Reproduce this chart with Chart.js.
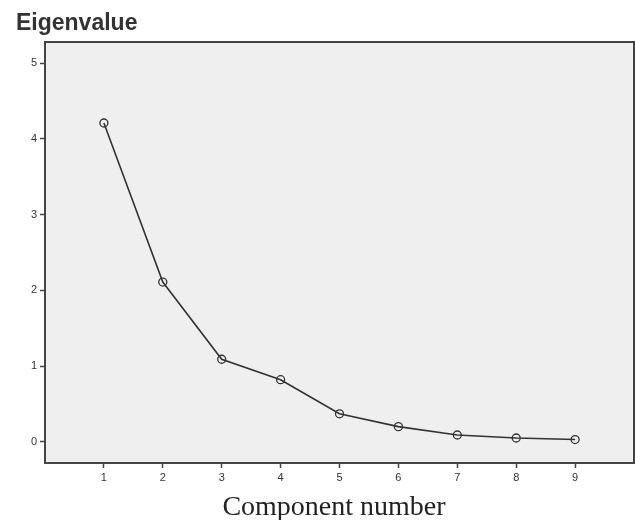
<!DOCTYPE html>
<html>
<head>
<meta charset="utf-8">
<script src="https://cdn.jsdelivr.net/npm/chart.js@4/dist/chart.umd.min.js"></script>
<style>
  html, body { margin: 0; padding: 0; background: #fff; }
  #wrap { width: 635px; height: 520px; }
</style>
</head>
<body>
<div id="wrap"><canvas id="myChart" width="635" height="520"></canvas></div>
<script>
// data
const components = [1, 2, 3, 4, 5, 6, 7, 8, 9];
const eigenvalues = [4.21, 2.11, 1.09, 0.82, 0.37, 0.20, 0.09, 0.05, 0.03];
const xTicks = [1, 2, 3, 4, 5, 6, 7, 8, 9];
const yTicks = [0, 1, 2, 3, 4, 5];

const points = components.map((c, i) => ({ x: c, y: eigenvalues[i] }));

// background, frame and titles
const framePlugin = {
  id: 'frame',
  beforeDraw(chart) {
    const { ctx, chartArea: { left, top, right, bottom } } = chart;
    ctx.save();
    ctx.fillStyle = '#efefef';
    ctx.fillRect(left, top, right - left, bottom - top);
    ctx.restore();
  },
  afterDraw(chart) {
    const { ctx, chartArea: { left, top, right, bottom } } = chart;
    ctx.save();
    ctx.strokeStyle = '#444';
    ctx.lineWidth = 2;
    ctx.beginPath();
    ctx.moveTo(left, top);
    ctx.lineTo(right, top);
    ctx.lineTo(right, bottom);
    ctx.stroke();

    ctx.fillStyle = '#333';
    ctx.font = 'bold 23px "Liberation Sans", Arial, sans-serif';
    ctx.textAlign = 'left';
    ctx.textBaseline = 'alphabetic';
    ctx.fillText('Eigenvalue', 16, 30);

    ctx.fillStyle = '#222';
    ctx.font = '28px "Liberation Serif", "DejaVu Serif", serif';
    ctx.textAlign = 'center';
    ctx.fillText('Component number', 334, 515);
    ctx.restore();
  }
};

const config = {
  type: 'line',
  data: {
    datasets: [{
      data: points,
      borderColor: '#333',
      borderWidth: 1.6,
      pointStyle: 'circle',
      pointRadius: 4,
      pointBorderWidth: 1.3,
      pointBorderColor: '#333',
      pointBackgroundColor: 'rgba(0,0,0,0)',
      tension: 0,
      fill: false
    }]
  },
  options: {
    responsive: false,
    animation: false,
    layout: { autoPadding: false, padding: { top: 42, right: 1, left: 0, bottom: 0 } },
    plugins: {
      legend: { display: false },
      tooltip: { enabled: false }
    },
    scales: {
      x: {
        type: 'linear',
        min: 0,
        max: 10,
        afterBuildTicks(scale) { scale.ticks = xTicks.map(v => ({ value: v })); },
        afterFit(scale) { scale.height = 57; },
        grid: { drawOnChartArea: false, drawTicks: true, tickLength: 5, tickColor: '#444', tickWidth: 1.5 },
        border: { display: true, color: '#444', width: 2 },
        ticks: { padding: 3, color: '#333', font: { size: 11, family: '"Liberation Sans", Arial, sans-serif' }, maxRotation: 0 }
      },
      y: {
        type: 'linear',
        min: -0.28,
        max: 5.28,
        afterBuildTicks(scale) { scale.ticks = yTicks.map(v => ({ value: v })); },
        afterFit(scale) { scale.width = 45; },
        grid: { drawOnChartArea: false, drawTicks: true, tickLength: 5, tickColor: '#444', tickWidth: 1.5 },
        border: { display: true, color: '#444', width: 2 },
        ticks: { padding: 3, color: '#333', font: { size: 11, family: '"Liberation Sans", Arial, sans-serif' } }
      }
    }
  },
  plugins: [framePlugin]
};

const myChart = new Chart(document.getElementById('myChart'), config);
</script>
</body>
</html>
